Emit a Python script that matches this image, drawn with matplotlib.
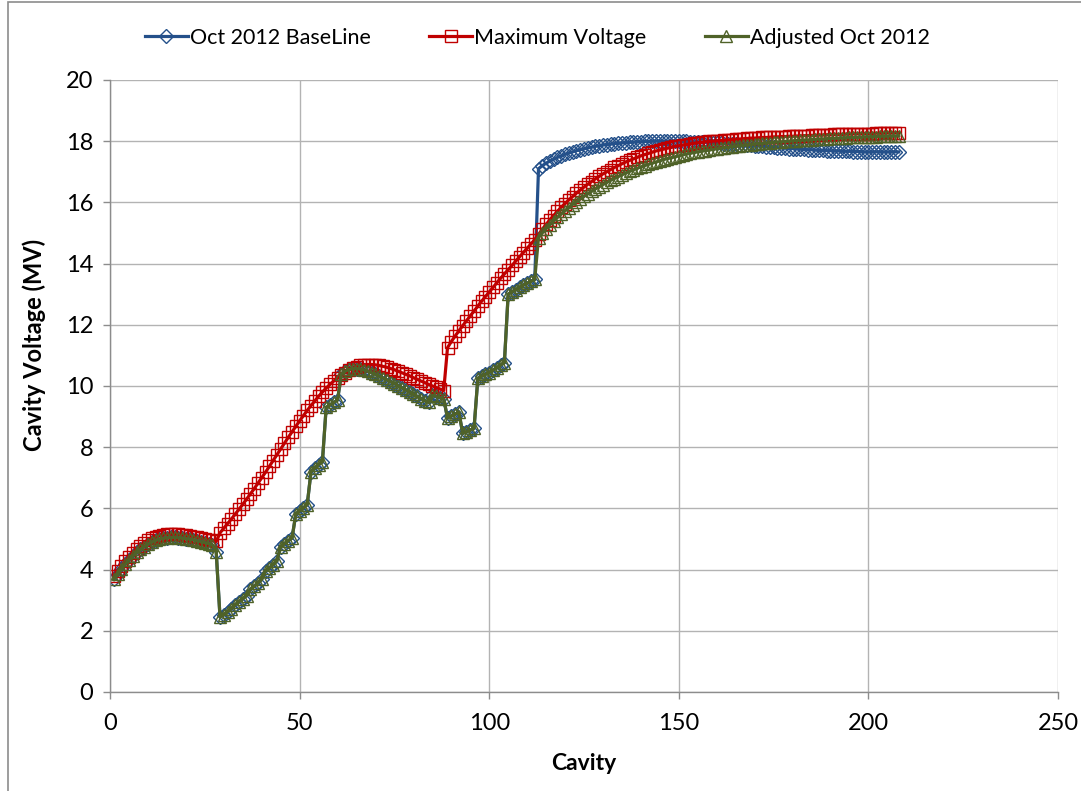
import matplotlib
matplotlib.use("Agg")
import matplotlib.pyplot as plt
from matplotlib.patches import Rectangle

# cavity numbers 1..208
cavity = list(range(1, 209))

# Maximum Voltage (MV) per cavity
max_voltage = [
    3.80, 3.95, 4.12, 4.28, 4.42, 4.55, 4.67, 4.78, 4.87, 4.95,
    5.02, 5.07, 5.11, 5.14, 5.15, 5.16, 5.16, 5.15, 5.14, 5.12,
    5.10, 5.08, 5.06, 5.03, 5.00, 4.98, 4.95, 4.92,
    5.20, 5.35, 5.50, 5.65, 5.81, 5.97, 6.13, 6.30, 6.47, 6.64,
    6.82, 7.00, 7.18, 7.37, 7.56, 7.75, 7.94, 8.13, 8.32, 8.50,
    8.68, 8.86, 9.03, 9.20, 9.36, 9.51, 9.66, 9.80, 9.93, 10.05,
    10.16, 10.26, 10.35, 10.44, 10.52, 10.58, 10.63, 10.67, 10.69, 10.70,
    10.70, 10.69, 10.67, 10.64, 10.61, 10.57, 10.53, 10.48, 10.43, 10.38,
    10.33, 10.27, 10.22, 10.16, 10.11, 10.05, 10.00, 9.95, 9.90, 9.85,
    11.25, 11.45, 11.63, 11.80, 11.97, 12.13, 12.29, 12.45, 12.61, 12.77,
    12.92, 13.07, 13.22, 13.37, 13.52, 13.66, 13.80, 13.94, 14.08, 14.22,
    14.36, 14.50, 14.64, 14.78,
    14.95, 15.12, 15.28, 15.43, 15.57, 15.71, 15.84, 15.96, 16.08, 16.19,
    16.30, 16.40, 16.50, 16.59, 16.68, 16.77, 16.85, 16.93, 17.00, 17.07,
    17.14, 17.20, 17.26, 17.32, 17.37, 17.42, 17.47, 17.52, 17.56, 17.60,
    17.64, 17.68, 17.71, 17.74, 17.77, 17.80, 17.83, 17.85, 17.87, 17.89,
    17.91, 17.93, 17.95, 17.96, 17.98, 17.99, 18.00, 18.01, 18.02, 18.03,
    18.04, 18.05, 18.06, 18.07, 18.08, 18.09, 18.10, 18.10, 18.11, 18.12,
    18.12, 18.13, 18.14, 18.14, 18.15, 18.15, 18.16, 18.16, 18.17, 18.17,
    18.18, 18.18, 18.19, 18.19, 18.20, 18.20, 18.21, 18.21, 18.22, 18.22,
    18.22, 18.23, 18.23, 18.24, 18.24, 18.24, 18.25, 18.25, 18.25, 18.26,
    18.26, 18.26, 18.27, 18.27, 18.27, 18.28,
]

# Adjusted Oct 2012 (MV) per cavity
adjusted = [
    3.68, 3.85, 4.02, 4.17, 4.31, 4.44, 4.56, 4.66, 4.75, 4.83,
    4.90, 4.95, 4.99, 5.02, 5.04, 5.05, 5.05, 5.04, 5.03, 5.01,
    4.99, 4.97, 4.94, 4.91, 4.88, 4.85, 4.80, 4.58,
    2.45, 2.53, 2.62, 2.72, 2.85, 2.95, 3.05, 3.15, 3.35, 3.45,
    3.56, 3.68, 3.95, 4.05, 4.16, 4.28, 4.75, 4.85, 4.94, 5.03,
    5.82, 5.92, 6.02, 6.12, 7.20, 7.32, 7.43, 7.52, 9.30, 9.38,
    9.46, 9.54,
    10.40, 10.48, 10.54, 10.57, 10.57, 10.55, 10.52, 10.48, 10.43, 10.38,
    10.32, 10.26, 10.20, 10.14, 10.08, 10.01, 9.94, 9.87, 9.80, 9.73,
    9.66, 9.59, 9.52, 9.46, 9.70, 9.66, 9.62, 9.58,
    8.95, 9.02, 9.08, 9.15, 8.45, 8.50, 8.56, 8.62, 10.25, 10.32,
    10.38, 10.44, 10.52, 10.60, 10.68, 10.76, 13.00, 13.08, 13.15, 13.22,
    13.30, 13.36, 13.42, 13.48,
    14.85, 15.00, 15.14, 15.27, 15.39, 15.51, 15.62, 15.73, 15.83, 15.93,
    16.02, 16.11, 16.20, 16.28, 16.36, 16.44, 16.51, 16.58, 16.65, 16.72,
    16.78, 16.84, 16.90, 16.96, 17.01, 17.06, 17.11, 17.16, 17.20, 17.24,
    17.28, 17.32, 17.36, 17.40, 17.43, 17.46, 17.49, 17.52, 17.55, 17.58,
    17.60, 17.63, 17.65, 17.67, 17.69, 17.71, 17.73, 17.75, 17.77, 17.79,
    17.80, 17.82, 17.84, 17.85, 17.87, 17.88, 17.89, 17.91, 17.92, 17.93,
    17.94, 17.95, 17.96, 17.97, 17.98, 17.99, 18.00, 18.01, 18.02, 18.03,
    18.04, 18.04, 18.05, 18.06, 18.07, 18.07, 18.08, 18.09, 18.09, 18.10,
    18.11, 18.11, 18.12, 18.12, 18.13, 18.13, 18.14, 18.14, 18.15, 18.15,
    18.16, 18.16, 18.16, 18.17, 18.17, 18.18,
]

# Oct 2012 BaseLine: same as adjusted up to cavity 112, then these values
baseline_tail = [
    17.10, 17.20, 17.28, 17.35, 17.41, 17.47, 17.52, 17.57, 17.61, 17.65,
    17.69, 17.72, 17.75, 17.78, 17.80, 17.83, 17.85, 17.87, 17.89, 17.90,
    17.92, 17.93, 17.94, 17.95, 17.96, 17.97, 17.98, 17.98, 17.99, 17.99,
    18.00, 18.00, 18.00, 18.00, 18.00, 18.00, 18.00, 17.99, 17.99, 17.99,
    17.98, 17.98, 17.97, 17.97, 17.96, 17.95, 17.95, 17.94, 17.93, 17.92,
    17.92, 17.91, 17.90, 17.89, 17.88, 17.87, 17.86, 17.85, 17.84, 17.83,
    17.82, 17.81, 17.80, 17.79, 17.78, 17.77, 17.76, 17.76, 17.75, 17.74,
    17.73, 17.72, 17.72, 17.71, 17.70, 17.70, 17.69, 17.69, 17.68, 17.68,
    17.67, 17.67, 17.67, 17.66, 17.66, 17.66, 17.65, 17.65, 17.65, 17.65,
    17.65, 17.65, 17.65, 17.65, 17.65, 17.65,
]
baseline = adjusted[:112] + baseline_tail

plt.rcParams['font.family'] = ['Lato', 'DejaVu Sans']

fig = plt.figure(figsize=(10.81, 7.91), dpi=100)
# outer chart border (partly cut off like the source)
fig.patches.append(Rectangle((0.007, -0.05), 1.2, 1.047, transform=fig.transFigure,
                             fill=False, edgecolor='#8c8c8c', linewidth=1.2))

ax = fig.add_axes([0.1018, 0.1252, 0.8769, 0.7737])

ax.plot(cavity, baseline, color='#24508a', linewidth=2.3, marker='D', markersize=7,
        markerfacecolor='none', markeredgecolor='#24508a', markeredgewidth=1.0,
        label='Oct 2012 BaseLine')
ax.plot(cavity, max_voltage, color='#c00000', linewidth=2.3, marker='s', markersize=9,
        markerfacecolor='none', markeredgecolor='#c00000', markeredgewidth=1.0,
        label='Maximum Voltage')
ax.plot(cavity, adjusted, color='#4f6228', linewidth=2.3, marker='^', markersize=8,
        markerfacecolor='none', markeredgecolor='#4f6228', markeredgewidth=1.0,
        label='Adjusted Oct 2012')

ax.set_xlim(0, 250)
ax.set_ylim(0, 20)
ax.set_xticks(range(0, 251, 50))
ax.set_yticks(range(0, 21, 2))
ax.grid(True, color='#b3b3b3', linewidth=1.0)
ax.set_axisbelow(True)
for side in ['top', 'right']:
    ax.spines[side].set_visible(False)
for side in ['left', 'bottom']:
    ax.spines[side].set_color('#8c8c8c')
    ax.spines[side].set_linewidth(1.0)
ax.tick_params(axis='both', colors='#8c8c8c', labelcolor='black', labelsize=17,
               length=5, width=1.0)
ax.tick_params(axis='x', pad=10)
ax.tick_params(axis='y', pad=7)

ax.set_xlabel('Cavity', fontsize=16.5, fontweight='bold')
ax.set_ylabel('Cavity Voltage (MV)', fontsize=17, fontweight='bold')
ax.xaxis.set_label_coords(0.5, -0.1)
ax.yaxis.set_label_coords(-0.068, 0.567)

fig.legend(loc='center', bbox_to_anchor=(0.497, 0.952), ncol=3, frameon=False,
           fontsize=15.5, handlelength=2.0, handletextpad=0.1, columnspacing=2.7)

fig.savefig('out.png', dpi=100)
